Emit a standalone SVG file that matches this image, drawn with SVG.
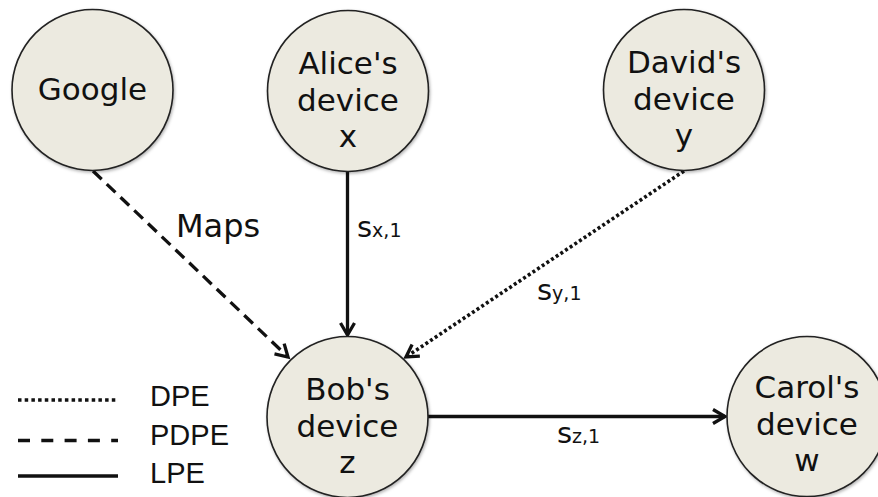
<svg xmlns="http://www.w3.org/2000/svg" width="878" height="497" viewBox="0 0 878 497">
  <style>
    .node circle { fill: #ECEAE0; stroke: #222; stroke-width: 1.6; filter: url(#shadow); }
    .node text { font-family: "DejaVu Sans", Verdana, sans-serif; font-size: 31px; fill: #111; text-anchor: middle; }
    .edge { fill: none; stroke: #111; stroke-width: 3.3; }
    .dash { stroke-dasharray: 12 7; }
    .dot { stroke-dasharray: 3 2.6; stroke-width: 3.6; }
    .label { font-family: "DejaVu Sans", Verdana, sans-serif; font-size: 29px; fill: #111; }
    .maps { font-size: 32px; }
    .sub { font-size: 19px; }
    .legend { font-family: "Liberation Sans", Arial, sans-serif; font-size: 29px; fill: #111; }
  </style>
  <defs>
    <filter id="shadow" x="-20%" y="-20%" width="140%" height="140%">
      <feDropShadow dx="1" dy="1.5" stdDeviation="1.5" flood-color="#000" flood-opacity="0.3"/>
    </filter>
    <marker id="arrow" markerUnits="userSpaceOnUse" markerWidth="20" markerHeight="20" viewBox="-14 -10 16 20" refX="0" refY="0" orient="auto">
      <path d="M-12,-7 L0,0 L-12,7" fill="none" stroke="#111" stroke-width="3.3" stroke-linejoin="miter"/>
    </marker>
  </defs>

  <!-- connectors -->
  <g id="connectors">
    <line class="edge dash" x1="93" y1="171" x2="288" y2="357" marker-end="url(#arrow)"/>
    <line class="edge" x1="347.5" y1="171" x2="347.5" y2="335" marker-end="url(#arrow)"/>
    <line class="edge dot" x1="684" y1="171" x2="406" y2="357" marker-end="url(#arrow)"/>
    <line class="edge" x1="428" y1="416.5" x2="725" y2="416.5" marker-end="url(#arrow)"/>
    <text class="label maps" x="176" y="237">Maps</text>
    <text class="label" x="357" y="237">s<tspan class="sub">x,1</tspan></text>
    <text class="label" x="537" y="300">s<tspan class="sub">y,1</tspan></text>
    <text class="label" x="557" y="443">s<tspan class="sub">z,1</tspan></text>
  </g>

  <!-- nodes -->
  <g id="google" class="node">
    <circle cx="92.5" cy="90" r="80.5"/>
    <text x="92.5" y="100">Google</text>
  </g>
  <g id="alice" class="node">
    <circle cx="348" cy="91" r="80.5"/>
    <text x="348" y="74">Alice's</text>
    <text x="348" y="111">device</text>
    <text x="348" y="147">x</text>
  </g>
  <g id="david" class="node">
    <circle cx="684" cy="90" r="80.5"/>
    <text x="684" y="73">David's</text>
    <text x="684" y="110">device</text>
    <text x="684" y="146">y</text>
  </g>
  <g id="bob" class="node">
    <circle cx="347.5" cy="417" r="80.5"/>
    <text x="347.5" y="400">Bob's</text>
    <text x="347.5" y="437">device</text>
    <text x="347.5" y="473">z</text>
  </g>
  <g id="carol" class="node">
    <circle cx="807" cy="416.5" r="80"/>
    <text x="807" y="398">Carol's</text>
    <text x="807" y="435">device</text>
    <text x="807" y="471">w</text>
  </g>

  <!-- legend -->
  <g id="legend">
    <line class="edge" x1="18" y1="400" x2="118" y2="400" stroke-dasharray="3.5 3.2"/>
    <line class="edge" x1="18" y1="440.5" x2="118" y2="440.5" stroke-dasharray="12 11.3"/>
    <line class="edge" x1="18" y1="476" x2="118" y2="476" stroke-width="3.6"/>
    <text class="legend" x="150" y="406">DPE</text>
    <text class="legend" x="150" y="445">PDPE</text>
    <text class="legend" x="150" y="483">LPE</text>
  </g>
</svg>
